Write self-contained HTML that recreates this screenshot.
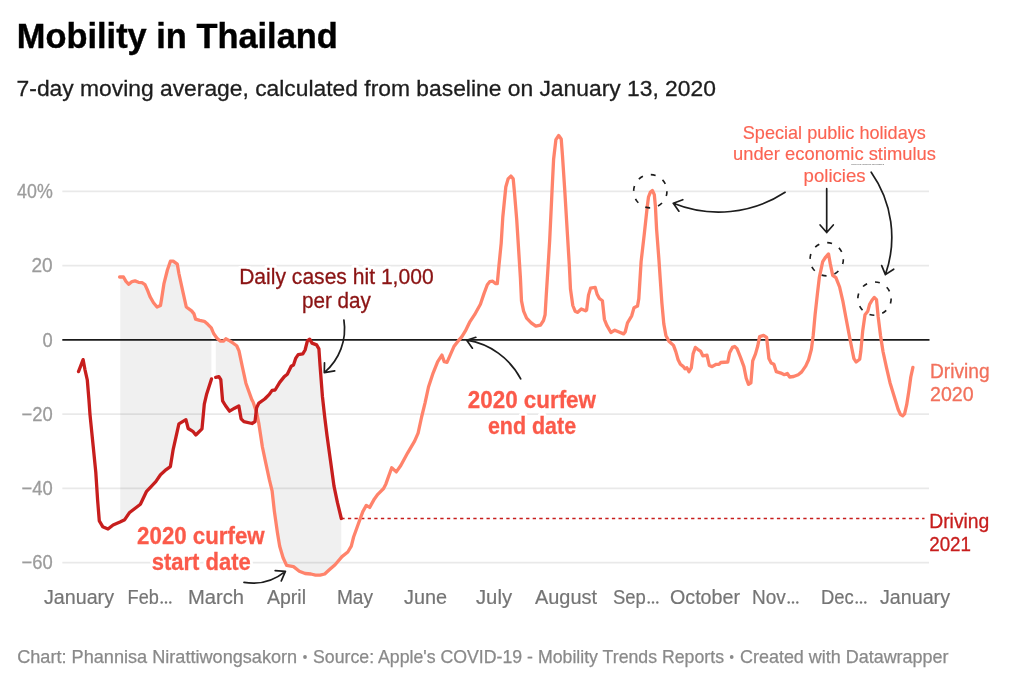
<!DOCTYPE html>
<html><head><meta charset="utf-8"><title>Mobility in Thailand</title>
<style>
html,body{margin:0;padding:0;background:#fff;}
body{width:1023px;height:693px;overflow:hidden;font-family:"Liberation Sans", sans-serif;}
svg{display:block;will-change:transform;font-family:"Liberation Sans", sans-serif;}
.halo{paint-order:stroke;stroke:#fff;stroke-width:6px;stroke-linejoin:round;}
</style></head><body>
<svg width="1023" height="693" viewBox="0 0 1023 693">
<rect width="1023" height="693" fill="#fff"/>

<text x="16.8" y="48.1" font-size="35.2" font-weight="700" fill="#000" stroke="#000" stroke-width="0.4" textLength="321" lengthAdjust="spacingAndGlyphs">Mobility in Thailand</text>
<text x="16.6" y="95.8" font-size="22.6" fill="#1d1d1d" stroke="#1d1d1d" stroke-width="0.3" textLength="699.3" lengthAdjust="spacingAndGlyphs">7-day moving average, calculated from baseline on January 13, 2020</text>
<path d="M120.3,277.0 L123.5,277.0 L125.8,281.1 L128.8,284.3 L132.0,281.6 L135.0,280.9 L138.5,282.3 L142.0,282.7 L145.0,284.6 L147.3,289.7 L150.0,296.6 L153.5,302.8 L157.0,307.0 L160.5,305.4 L161.6,298.9 L163.9,283.9 L167.4,270.0 L170.4,261.2 L173.2,261.2 L177.3,264.2 L178.9,273.5 L182.4,289.7 L186.3,307.0 L191.6,310.9 L194.0,313.9 L195.6,319.2 L199.7,320.4 L204.3,321.3 L207.8,324.3 L211.3,327.8 L211.4,328.0 L211.4,379.2 L206.7,393.9 L204.3,404.2 L202.0,428.9 L195.8,435.0 L192.8,431.3 L188.2,428.5 L185.9,419.7 L178.9,423.9 L173.2,449.3 L170.4,466.6 L166.2,469.6 L160.5,474.7 L155.8,481.6 L146.6,491.3 L140.4,504.3 L136.2,507.5 L129.3,512.8 L124.7,519.7 L120.3,521.9Z" fill="#f0f0f0"/>
<path d="M215.8,336.5 L217.0,338.2 L220.5,341.2 L223.5,341.2 L225.8,338.8 L229.7,340.9 L233.2,343.2 L236.7,345.8 L239.0,350.9 L242.4,367.0 L245.9,383.2 L251.7,399.4 L253.1,402.0 L256.6,412.4 L258.9,423.9 L262.4,447.0 L265.8,463.2 L269.3,479.4 L272.1,490.8 L274.4,511.6 L277.4,532.4 L279.7,546.2 L283.1,557.8 L286.6,565.4 L293.5,566.6 L299.3,571.2 L305.1,573.5 L310.9,574.0 L315.5,575.1 L320.1,575.1 L324.7,574.0 L329.3,569.8 L335.1,564.7 L341.3,557.4 L341.3,518.5 L337.4,502.4 L334.0,486.2 L330.5,460.8 L327.0,435.5 L324.7,417.0 L322.4,396.2 L320.1,366.2 L318.9,348.9 L316.6,344.9 L312.0,343.1 L309.7,339.2 L307.4,340.8 L305.1,350.0 L302.8,353.9 L298.2,354.6 L295.8,358.1 L293.5,365.0 L291.2,366.2 L287.3,374.3 L284.3,376.6 L279.7,382.4 L275.1,390.0 L272.1,390.4 L269.3,394.4 L264.7,399.0 L258.9,403.1 L256.6,407.8 L255.0,421.6 L252.0,423.5 L243.9,421.6 L241.1,418.8 L238.8,405.9 L234.6,408.2 L229.6,411.2 L225.4,405.5 L222.6,400.8 L220.8,379.6 L218.9,376.6 L215.8,377.3Z" fill="#f0f0f0"/>
<line x1="62.3" x2="929" y1="191.4" y2="191.4" stroke="#000" stroke-opacity="0.085" stroke-width="1.7"/>
<line x1="62.3" x2="929" y1="265.63" y2="265.63" stroke="#000" stroke-opacity="0.085" stroke-width="1.7"/>
<line x1="62.3" x2="929" y1="414.09" y2="414.09" stroke="#000" stroke-opacity="0.085" stroke-width="1.7"/>
<line x1="62.3" x2="929" y1="488.32" y2="488.32" stroke="#000" stroke-opacity="0.085" stroke-width="1.7"/>
<line x1="62.3" x2="929" y1="562.55" y2="562.55" stroke="#000" stroke-opacity="0.085" stroke-width="1.7"/>
<line x1="62.3" x2="929.5" y1="339.86" y2="339.86" stroke="#1a1a1a" stroke-width="1.64"/>
<text x="52.7" y="198.0" font-size="19.9" fill="#9c9c9c" stroke="#9c9c9c" stroke-width="0.3" text-anchor="end" textLength="35.6" lengthAdjust="spacingAndGlyphs">40%</text>
<text x="52.7" y="272.2" font-size="19.9" fill="#9c9c9c" stroke="#9c9c9c" stroke-width="0.3" text-anchor="end" textLength="21.2" lengthAdjust="spacingAndGlyphs">20</text>
<text x="52.7" y="346.5" font-size="19.9" fill="#9c9c9c" stroke="#9c9c9c" stroke-width="0.3" text-anchor="end" textLength="10.2" lengthAdjust="spacingAndGlyphs">0</text>
<text x="52.7" y="420.7" font-size="19.9" fill="#9c9c9c" stroke="#9c9c9c" stroke-width="0.3" text-anchor="end" textLength="31.2" lengthAdjust="spacingAndGlyphs">−20</text>
<text x="52.7" y="494.9" font-size="19.9" fill="#9c9c9c" stroke="#9c9c9c" stroke-width="0.3" text-anchor="end" textLength="31.2" lengthAdjust="spacingAndGlyphs">−40</text>
<text x="52.7" y="569.1" font-size="19.9" fill="#9c9c9c" stroke="#9c9c9c" stroke-width="0.3" text-anchor="end" textLength="31.2" lengthAdjust="spacingAndGlyphs">−60</text>
<text x="44" y="603.8" font-size="19.9" fill="#757575" stroke="#757575" stroke-width="0.2" textLength="70" lengthAdjust="spacingAndGlyphs">January</text>
<text x="127.6" y="603.8" font-size="19.9" fill="#757575" stroke="#757575" stroke-width="0.2" textLength="31.2" lengthAdjust="spacingAndGlyphs">Feb</text>
<circle cx="161.7" cy="602.5" r="1.2" fill="#757575"/>
<circle cx="166.0" cy="602.5" r="1.2" fill="#757575"/>
<circle cx="170.3" cy="602.5" r="1.2" fill="#757575"/>
<text x="188" y="603.8" font-size="19.9" fill="#757575" stroke="#757575" stroke-width="0.2" textLength="56" lengthAdjust="spacingAndGlyphs">March</text>
<text x="267" y="603.8" font-size="19.9" fill="#757575" stroke="#757575" stroke-width="0.2" textLength="39" lengthAdjust="spacingAndGlyphs">April</text>
<text x="337" y="603.8" font-size="19.9" fill="#757575" stroke="#757575" stroke-width="0.2" textLength="36" lengthAdjust="spacingAndGlyphs">May</text>
<text x="404" y="603.8" font-size="19.9" fill="#757575" stroke="#757575" stroke-width="0.2" textLength="43" lengthAdjust="spacingAndGlyphs">June</text>
<text x="476" y="603.8" font-size="19.9" fill="#757575" stroke="#757575" stroke-width="0.2" textLength="36" lengthAdjust="spacingAndGlyphs">July</text>
<text x="535" y="603.8" font-size="19.9" fill="#757575" stroke="#757575" stroke-width="0.2" textLength="62" lengthAdjust="spacingAndGlyphs">August</text>
<text x="613" y="603.8" font-size="19.9" fill="#757575" stroke="#757575" stroke-width="0.2" textLength="32.8" lengthAdjust="spacingAndGlyphs">Sep</text>
<circle cx="648.7" cy="602.5" r="1.2" fill="#757575"/>
<circle cx="653.0" cy="602.5" r="1.2" fill="#757575"/>
<circle cx="657.3" cy="602.5" r="1.2" fill="#757575"/>
<text x="670" y="603.8" font-size="19.9" fill="#757575" stroke="#757575" stroke-width="0.2" textLength="70" lengthAdjust="spacingAndGlyphs">October</text>
<text x="752" y="603.8" font-size="19.9" fill="#757575" stroke="#757575" stroke-width="0.2" textLength="33.8" lengthAdjust="spacingAndGlyphs">Nov</text>
<circle cx="788.7" cy="602.5" r="1.2" fill="#757575"/>
<circle cx="793.0" cy="602.5" r="1.2" fill="#757575"/>
<circle cx="797.3" cy="602.5" r="1.2" fill="#757575"/>
<text x="821" y="603.8" font-size="19.9" fill="#757575" stroke="#757575" stroke-width="0.2" textLength="32.8" lengthAdjust="spacingAndGlyphs">Dec</text>
<circle cx="856.7" cy="602.5" r="1.2" fill="#757575"/>
<circle cx="861.0" cy="602.5" r="1.2" fill="#757575"/>
<circle cx="865.3" cy="602.5" r="1.2" fill="#757575"/>
<text x="880" y="603.8" font-size="19.9" fill="#757575" stroke="#757575" stroke-width="0.2" textLength="70" lengthAdjust="spacingAndGlyphs">January</text>
<line x1="341.3" x2="924.5" y1="518.5" y2="518.5" stroke="#c71e1d" stroke-width="1.6" stroke-dasharray="3.3,3.3"/>
<path d="M119.6,277.0 L123.5,277.0 L125.8,281.1 L128.8,284.3 L132.0,281.6 L135.0,280.9 L138.5,282.3 L142.0,282.7 L145.0,284.6 L147.3,289.7 L150.0,296.6 L153.5,302.8 L157.0,307.0 L160.5,305.4 L161.6,298.9 L163.9,283.9 L167.4,270.0 L170.4,261.2 L173.2,261.2 L177.3,264.2 L178.9,273.5 L182.4,289.7 L186.3,307.0 L191.6,310.9 L194.0,313.9 L195.6,319.2 L199.7,320.4 L204.3,321.3 L207.8,324.3 L211.3,327.8 L213.6,333.5 L217.0,338.2 L220.5,341.2 L223.5,341.2 L225.8,338.8 L229.7,340.9 L233.2,343.2 L236.7,345.8 L239.0,350.9 L242.4,367.0 L245.9,383.2 L251.7,399.4 L253.1,402.0 L256.6,412.4 L258.9,423.9 L262.4,447.0 L265.8,463.2 L269.3,479.4 L272.1,490.8 L274.4,511.6 L277.4,532.4 L279.7,546.2 L283.1,557.8 L286.6,565.4 L293.5,566.6 L299.3,571.2 L305.1,573.5 L310.9,574.0 L315.5,575.1 L320.1,575.1 L324.7,574.0 L329.3,569.8 L335.1,564.7 L342.0,556.6 L347.8,552.0 L351.3,546.2 L353.6,537.0 L358.2,524.3 L362.8,511.6 L366.3,505.4 L369.7,507.4 L374.4,498.9 L377.8,494.3 L383.6,488.5 L385.9,483.9 L391.7,467.7 L396.3,471.9 L400.8,465.5 L407.7,452.8 L414.6,441.2 L418.1,433.2 L421.6,417.0 L425.0,403.1 L428.5,387.0 L433.1,373.1 L437.7,361.6 L441.9,355.1 L444.2,361.6 L447.0,362.3 L450.4,354.6 L453.9,346.6 L457.4,341.9 L461.9,336.6 L465.4,330.9 L470.0,321.6 L474.6,314.7 L480.4,304.3 L483.9,293.9 L487.3,284.7 L489.7,281.7 L492.7,281.2 L495.4,283.5 L497.3,283.5 L498.9,266.2 L501.2,243.1 L502.8,217.0 L505.8,187.0 L508.1,178.9 L510.9,176.1 L513.2,178.9 L514.4,191.6 L516.7,219.3 L518.5,247.7 L520.4,277.7 L521.5,300.8 L523.6,311.2 L526.6,318.1 L531.2,322.8 L535.8,326.2 L540.5,325.1 L543.5,320.5 L545.1,314.7 L546.2,296.2 L548.1,266.2 L549.7,240.1 L552.0,191.6 L553.6,159.3 L555.9,139.6 L558.7,135.5 L561.2,138.9 L562.4,154.6 L564.7,189.3 L567.5,235.5 L569.3,265.0 L570.5,289.3 L572.8,305.5 L575.1,311.2 L577.4,312.4 L581.3,308.9 L585.5,310.8 L586.6,310.1 L588.5,295.1 L590.6,288.1 L595.2,287.4 L597.0,293.9 L599.4,298.5 L602.4,300.8 L604.4,319.3 L606.7,325.1 L610.9,332.5 L614.8,330.2 L619.0,332.0 L623.6,333.9 L625.2,332.0 L627.5,322.8 L631.7,315.8 L634.0,307.8 L637.5,306.1 L638.8,298.6 L641.1,261.6 L644.3,233.9 L647.3,206.2 L648.5,197.0 L650.3,192.3 L652.4,190.5 L654.3,194.6 L655.4,206.2 L656.6,229.3 L658.9,259.3 L660.3,280.0 L661.9,303.1 L663.8,323.9 L665.9,335.4 L668.9,341.2 L673.5,345.4 L675.8,351.6 L678.1,359.7 L680.4,364.3 L683.4,366.6 L685.0,368.9 L686.9,367.8 L689.0,371.7 L691.3,367.8 L693.1,353.9 L695.4,347.4 L697.7,349.3 L700.5,351.1 L702.8,355.8 L707.0,355.1 L709.3,365.5 L712.1,366.6 L716.2,364.3 L719.0,364.3 L720.8,362.5 L727.8,362.0 L729.6,352.8 L732.4,347.4 L734.7,346.5 L737.0,348.6 L740.5,357.4 L743.9,366.6 L746.2,378.2 L748.5,384.4 L750.9,382.8 L752.7,360.8 L755.5,353.9 L757.8,345.8 L759.6,336.6 L763.6,335.4 L766.6,337.3 L768.9,358.5 L771.2,363.1 L773.9,364.3 L776.3,371.7 L780.9,373.1 L784.3,374.7 L787.3,373.5 L789.7,377.0 L793.6,376.5 L798.2,374.7 L801.7,371.9 L805.8,365.9 L808.6,359.7 L811.4,349.3 L813.2,335.4 L815.1,314.6 L817.4,293.9 L819.3,277.7 L822.7,261.6 L825.7,257.0 L828.5,253.9 L830.3,263.9 L832.7,275.4 L835.9,277.7 L839.6,287.0 L842.8,300.8 L845.8,317.0 L849.3,335.5 L852.0,349.3 L853.9,358.6 L856.2,362.0 L859.7,359.3 L860.8,351.6 L862.7,330.9 L865.0,314.7 L867.8,311.2 L869.6,304.3 L872.4,299.7 L874.2,297.4 L876.5,299.7 L878.2,317.0 L880.5,335.5 L883.0,351.5 L886.5,367.7 L890.0,382.7 L894.6,397.7 L898.1,409.3 L900.4,414.4 L902.7,415.8 L904.6,413.9 L906.7,404.7 L908.9,390.8 L910.8,377.0 L912.9,367.3" fill="none" stroke="#ff836b" stroke-width="3.3" stroke-linejoin="round" stroke-linecap="round"/>
<path d="M78.5,371.6 L83.1,359.6 L84.9,369.3 L87.3,380.0 L88.9,399.4 L90.0,414.6 L93.5,449.3 L95.8,472.4 L97.6,500.0 L99.3,520.9 L102.7,526.7 L108.0,529.0 L113.1,525.0 L120.0,522.0 L124.7,519.7 L129.3,512.8 L136.2,507.5 L140.4,504.3 L146.6,491.3 L155.8,481.6 L160.5,474.7 L166.2,469.6 L170.4,466.6 L173.2,449.3 L178.9,423.9 L185.9,419.7 L188.2,428.5 L192.8,431.3 L195.8,435.0 L202.0,428.9 L204.3,404.2 L206.7,393.9 L211.5,378.9" fill="none" stroke="#c71e1d" stroke-width="3.3" stroke-linejoin="round" stroke-linecap="round"/>
<path d="M215.7,377.3 L218.9,376.6 L220.8,379.6 L222.6,400.8 L225.4,405.5 L229.6,411.2 L234.6,408.2 L238.8,405.9 L241.1,418.8 L243.9,421.6 L252.0,423.5 L255.0,421.6 L256.6,407.8 L258.9,403.1 L264.7,399.0 L269.3,394.4 L272.1,390.4 L275.1,390.0 L279.7,382.4 L284.3,376.6 L287.3,374.3 L291.2,366.2 L293.5,365.0 L295.8,358.1 L298.2,354.6 L302.8,353.9 L305.1,350.0 L307.4,340.8 L309.7,339.2 L312.0,343.1 L316.6,344.9 L318.9,348.9 L320.1,366.2 L322.4,396.2 L324.7,417.0 L327.0,435.5 L330.5,460.8 L334.0,486.2 L337.4,502.4 L341.3,518.5" fill="none" stroke="#c71e1d" stroke-width="3.3" stroke-linejoin="round" stroke-linecap="round"/>
<circle cx="650.3" cy="191.2" r="16.65" fill="none" stroke="#1d1d1d" stroke-width="1.65" stroke-dasharray="4.9,8.18"/>
<circle cx="826.7" cy="259.2" r="16.65" fill="none" stroke="#1d1d1d" stroke-width="1.65" stroke-dasharray="4.9,8.18"/>
<circle cx="874.5" cy="298.6" r="16.65" fill="none" stroke="#1d1d1d" stroke-width="1.65" stroke-dasharray="4.9,8.18"/>
<path d="M343.9,320 A57.4,57.4 0 0 1 324.3,372.6 M324.5,362.8 L324.3,372.6 L334.7,370.8" fill="none" stroke="#1d1d1d" stroke-width="1.7" stroke-linecap="round" stroke-linejoin="round"/>
<path d="M244,582.4 A51.9,51.9 0 0 0 285.4,571.4 M275.2,570.6 L285.4,571.4 L281.3,580.9" fill="none" stroke="#1d1d1d" stroke-width="1.7" stroke-linecap="round" stroke-linejoin="round"/>
<path d="M520.7,378.9 A73.8,73.8 0 0 0 466.7,340.2 M475.8,337.3 L466.7,340.2 L472.4,348.2" fill="none" stroke="#1d1d1d" stroke-width="1.7" stroke-linecap="round" stroke-linejoin="round"/>
<path d="M785.1,192.3 A121.3,121.3 0 0 1 673.3,203.3 M682.8,199.7 L673.3,203.3 L678.9,211.2" fill="none" stroke="#1d1d1d" stroke-width="1.7" stroke-linecap="round" stroke-linejoin="round"/>
<path d="M826.7,188.7 L826.7,232.5 M820.1,225 L826.7,232.5 L833.3,225" fill="none" stroke="#1d1d1d" stroke-width="1.7" stroke-linecap="round" stroke-linejoin="round"/>
<path d="M871.2,172.2 A112.8,112.8 0 0 1 885.4,274.6 M881.7,265.6 L885.4,274.6 L893.7,269.2" fill="none" stroke="#1d1d1d" stroke-width="1.7" stroke-linecap="round" stroke-linejoin="round"/>
<text x="336.4" y="283.6" font-size="21.3" font-weight="400" text-anchor="middle" textLength="194.5" lengthAdjust="spacingAndGlyphs" fill="#fff" stroke="#fff" stroke-width="6.5" stroke-linejoin="round">Daily cases hit 1,000</text>
<text x="336.4" y="283.6" font-size="21.3" font-weight="400" text-anchor="middle" textLength="194.5" lengthAdjust="spacingAndGlyphs" fill="#8b1414" stroke="#8b1414" stroke-width="0.3">Daily cases hit 1,000</text>
<text x="336.4" y="308.1" font-size="21.3" font-weight="400" text-anchor="middle" textLength="69" lengthAdjust="spacingAndGlyphs" fill="#fff" stroke="#fff" stroke-width="6.5" stroke-linejoin="round">per day</text>
<text x="336.4" y="308.1" font-size="21.3" font-weight="400" text-anchor="middle" textLength="69" lengthAdjust="spacingAndGlyphs" fill="#8b1414" stroke="#8b1414" stroke-width="0.3">per day</text>
<text x="834.3" y="139.1" font-size="19" font-weight="400" text-anchor="middle" textLength="183" lengthAdjust="spacingAndGlyphs" fill="#fff" stroke="#fff" stroke-width="6.5" stroke-linejoin="round">Special public holidays</text>
<text x="834.3" y="139.1" font-size="19" font-weight="400" text-anchor="middle" textLength="183" lengthAdjust="spacingAndGlyphs" fill="#fb6453" stroke="#fb6453" stroke-width="0.15">Special public holidays</text>
<text x="834.5" y="160.3" font-size="19" font-weight="400" text-anchor="middle" textLength="203" lengthAdjust="spacingAndGlyphs" fill="#fff" stroke="#fff" stroke-width="6.5" stroke-linejoin="round">under economic stimulus</text>
<text x="834.5" y="160.3" font-size="19" font-weight="400" text-anchor="middle" textLength="203" lengthAdjust="spacingAndGlyphs" fill="#fb6453" stroke="#fb6453" stroke-width="0.15">under economic stimulus</text>
<text x="834.6" y="181.5" font-size="19" font-weight="400" text-anchor="middle" textLength="62" lengthAdjust="spacingAndGlyphs" fill="#fff" stroke="#fff" stroke-width="6.5" stroke-linejoin="round">policies</text>
<text x="834.6" y="181.5" font-size="19" font-weight="400" text-anchor="middle" textLength="62" lengthAdjust="spacingAndGlyphs" fill="#fb6453" stroke="#fb6453" stroke-width="0.15">policies</text>
<text x="851.2" y="165.4" font-family="'Liberation Serif', serif" font-size="2.9" fill="#333" textLength="33" lengthAdjust="spacingAndGlyphs">Special public holidays</text>
<text x="200.9" y="544.3" font-size="24.7" font-weight="700" text-anchor="middle" textLength="127.6" lengthAdjust="spacingAndGlyphs" fill="#fff" stroke="#fff" stroke-width="6.5" stroke-linejoin="round">2020 curfew</text>
<text x="200.9" y="544.3" font-size="24.7" font-weight="700" text-anchor="middle" textLength="127.6" lengthAdjust="spacingAndGlyphs" fill="#fb5a4a" stroke="#fb5a4a" stroke-width="0.3">2020 curfew</text>
<text x="201.3" y="570.3" font-size="24.7" font-weight="700" text-anchor="middle" textLength="99.2" lengthAdjust="spacingAndGlyphs" fill="#fff" stroke="#fff" stroke-width="6.5" stroke-linejoin="round">start date</text>
<text x="201.3" y="570.3" font-size="24.7" font-weight="700" text-anchor="middle" textLength="99.2" lengthAdjust="spacingAndGlyphs" fill="#fb5a4a" stroke="#fb5a4a" stroke-width="0.3">start date</text>
<text x="531.9" y="407.6" font-size="24.7" font-weight="700" text-anchor="middle" textLength="128.2" lengthAdjust="spacingAndGlyphs" fill="#fff" stroke="#fff" stroke-width="6.5" stroke-linejoin="round">2020 curfew</text>
<text x="531.9" y="407.6" font-size="24.7" font-weight="700" text-anchor="middle" textLength="128.2" lengthAdjust="spacingAndGlyphs" fill="#fb5a4a" stroke="#fb5a4a" stroke-width="0.3">2020 curfew</text>
<text x="532" y="433.6" font-size="24.7" font-weight="700" text-anchor="middle" textLength="88.2" lengthAdjust="spacingAndGlyphs" fill="#fff" stroke="#fff" stroke-width="6.5" stroke-linejoin="round">end date</text>
<text x="532" y="433.6" font-size="24.7" font-weight="700" text-anchor="middle" textLength="88.2" lengthAdjust="spacingAndGlyphs" fill="#fb5a4a" stroke="#fb5a4a" stroke-width="0.3">end date</text>
<text x="930" y="377.8" font-size="19.5" font-weight="400" text-anchor="start" textLength="59.6" lengthAdjust="spacingAndGlyphs" fill="#f2715c" stroke="#f2715c" stroke-width="0.3">Driving</text>
<text x="930" y="400.8" font-size="19.5" font-weight="400" text-anchor="start" textLength="43.6" lengthAdjust="spacingAndGlyphs" fill="#f2715c" stroke="#f2715c" stroke-width="0.3">2020</text>
<text x="929.2" y="528" font-size="19.5" font-weight="400" text-anchor="start" textLength="60.2" lengthAdjust="spacingAndGlyphs" fill="#c71e1d" stroke="#c71e1d" stroke-width="0.3">Driving</text>
<text x="929.2" y="551" font-size="19.5" font-weight="400" text-anchor="start" textLength="41.8" lengthAdjust="spacingAndGlyphs" fill="#c71e1d" stroke="#c71e1d" stroke-width="0.3">2021</text>
<text x="17.2" y="663.2" font-size="17.8" fill="#8a8a8a" stroke="#8a8a8a" stroke-width="0.25" lengthAdjust="spacingAndGlyphs" textLength="280">Chart: Phannisa Nirattiwongsakorn</text>
<circle cx="305" cy="657.0" r="1.9" fill="#8a8a8a"/>
<text x="313" y="663.2" font-size="17.8" fill="#8a8a8a" stroke="#8a8a8a" stroke-width="0.25" lengthAdjust="spacingAndGlyphs" textLength="411">Source: Apple's COVID-19 - Mobility Trends Reports</text>
<circle cx="731.7" cy="657.0" r="1.9" fill="#8a8a8a"/>
<text x="740" y="663.2" font-size="17.8" fill="#8a8a8a" stroke="#8a8a8a" stroke-width="0.25" lengthAdjust="spacingAndGlyphs" textLength="208.5">Created with Datawrapper</text>
</svg></body></html>
